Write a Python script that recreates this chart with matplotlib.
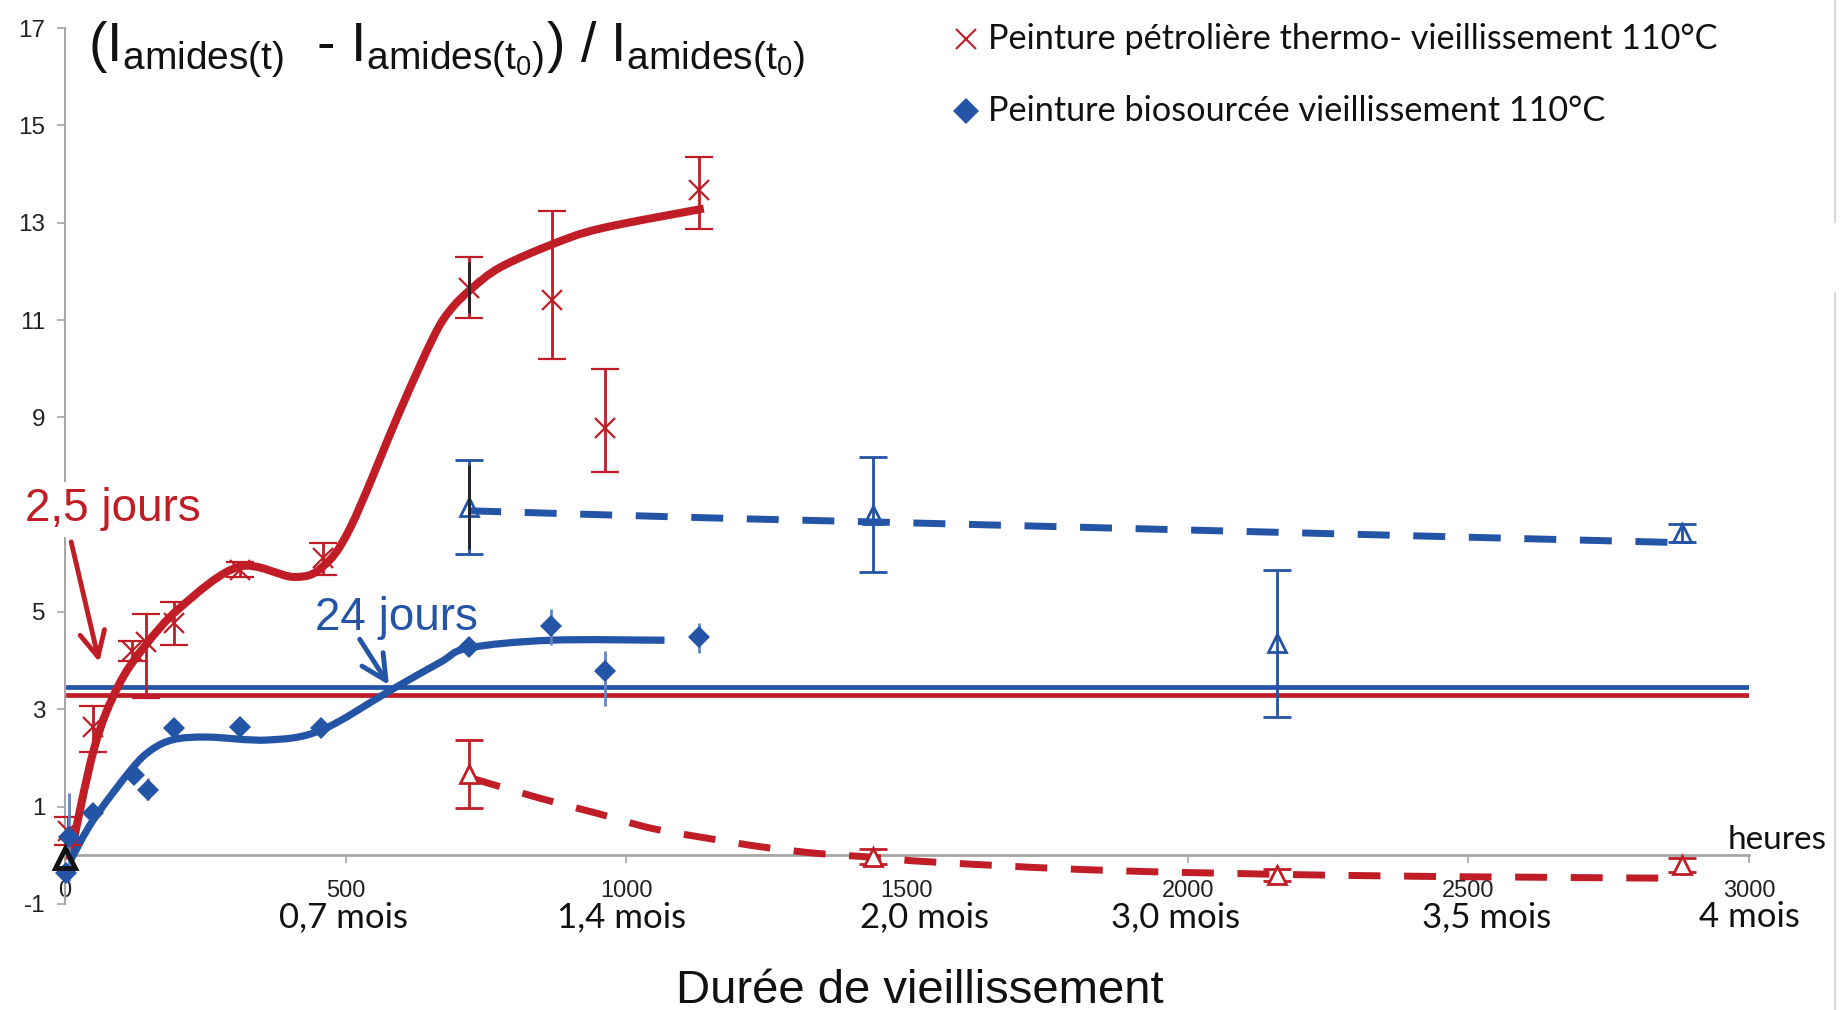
import numpy as np
import matplotlib as mpl
from matplotlib import pyplot as plt
from matplotlib.path import Path
from matplotlib.patches import PathPatch
from matplotlib.lines import Line2D

plt.rcParams['font.family'] = ['Liberation Sans', 'DejaVu Sans']
plt.rcParams['mathtext.fontset'] = 'custom'
plt.rcParams['mathtext.rm'] = 'Liberation Sans'
plt.rcParams['mathtext.it'] = 'Liberation Sans:italic'
plt.rcParams['axes.unicode_minus'] = False

RED = '#c01d26'
BLUE = '#2454a5'
GREY = '#a6a6a6'

# peinture pétrolière, thermo-vieillissement 110°C (croix)
petro_h = [5, 50, 120, 145, 195, 312, 460, 720, 867, 962, 1130]
petro_y = [0.5, 2.63, 4.2, 4.38, 4.77, 5.87, 6.1, 11.65, 11.42, 8.79, 13.68]
petro_lo = [0.28, 0.51, 0.2, 1.15, 0.45, 0.15, 0.33, 0.6, 1.22, 0.91, 0.8]
petro_hi = [0.28, 0.44, 0.2, 0.58, 0.43, 0.15, 0.31, 0.65, 1.81, 1.21, 0.66]

# peinture biosourcée 110°C (losanges)
bio_h = [2, 8, 50, 123, 148, 194, 312, 456, 720, 865, 962, 1130]
bio_y = [-0.37, 0.37, 0.86, 1.65, 1.34, 2.61, 2.64, 2.61, 4.28, 4.71, 3.79, 4.48]
bio_lo = [0.1, 0.9, 0.1, 0.12, 0.21, 0.1, 0.1, 0.1, 0.1, 0.39, 0.72, 0.33]
bio_hi = [0.1, 0.91, 0.1, 0.12, 0.24, 0.1, 0.1, 0.1, 0.1, 0.35, 0.41, 0.29]

# autres séries (triangles ouverts)
petro2_h = [720, 1440, 2160, 2880]
petro2_y = [1.67, -0.03, -0.41, -0.2]
petro2_err = [0.7, 0.15, 0.12, 0.15]
bio2_h = [720, 1440, 2160, 2880]
bio2_y = [7.16, 7.0, 4.36, 6.62]
bio2_err = [0.96, 1.18, 1.51, 0.18]

# courbes lissées
petro_fit_h = [8, 52, 94, 141, 206, 310, 408, 459, 509, 597, 656, 686, 723, 775, 867, 954, 1138]
petro_fit_y = [-0.1, 2.2, 3.46, 4.28, 5.1, 5.93, 5.72, 5.93, 6.75, 9.14, 10.64, 11.2, 11.63, 12.08,
               12.55, 12.88, 13.29]
bio_fit_h = [10, 50, 117, 153, 194, 254, 361, 456, 580, 669, 719, 865, 1068]
bio_fit_y = [-0.1, 0.72, 1.75, 2.16, 2.38, 2.43, 2.37, 2.57, 3.39, 3.97, 4.26, 4.42, 4.42]
petro2_fit_h = [720, 847, 949, 1043, 1145, 1243, 1340, 1440, 1549, 1857, 2263, 2619, 2860]
petro2_fit_y = [1.6, 1.17, 0.86, 0.56, 0.35, 0.17, 0.04, -0.04, -0.14, -0.31, -0.41, -0.45, -0.47]
bio2_fit_h = [720, 1160, 1442, 2860]
bio2_fit_y = [7.08, 6.93, 6.85, 6.43]

# seuils
seuil_bio = 3.45
seuil_petro = 3.30
seuil_h = [5, 3000]

y_ticks = [-1, 1, 3, 5, 7, 9, 11, 13, 15, 17]
y_ticklabels = ['-1', '1', '3', '5', '', '9', '11', '13', '15', '17']  # "7" caché sous "2,5 jours"
month_labels = ['0,7 mois', '1,4 mois', '2,0 mois', '3,0 mois', '3,5 mois', '4 mois']
month_h = [497, 992, 1532, 1978, 2533, 3000]


def smooth_path(xs, ys):
    # bezier a la Excel (courbe lissee)
    p = np.column_stack([xs, ys]).astype(float)
    n = len(p)
    verts = [p[0]]
    codes = [Path.MOVETO]
    for i in range(n - 1):
        p0 = p[i - 1] if i > 0 else p[i]
        p3 = p[i + 2] if i + 2 < n else p[i + 1]
        verts += [p[i] + (p[i + 1] - p0) / 6, p[i + 1] - (p3 - p[i]) / 6, p[i + 1]]
        codes += [Path.CURVE4] * 3
    return Path(verts, codes)


fig = plt.figure(figsize=(18.48, 10.10), dpi=100)
ax = fig.add_axes([65 / 1848, 1 - 904 / 1010, (1749 - 65) / 1848, (904 - 28) / 1010])
ax.set_xlim(0, 3000)
ax.set_ylim(-1, 17)

for s in ['top', 'right']:
    ax.spines[s].set_visible(False)
ax.spines['left'].set_color(GREY)
ax.spines['left'].set_linewidth(1.5)
ax.spines['bottom'].set_color(GREY)
ax.spines['bottom'].set_linewidth(2)
ax.spines['bottom'].set_position(('data', 0))

ax.set_yticks(y_ticks)
ax.set_yticklabels(y_ticklabels)
ax.set_xticks(np.arange(0, 3001, 500))
ax.tick_params(axis='y', direction='out', length=6, width=1.2, color=GREY, pad=8,
               labelsize=17.5, labelcolor='#222222')
ax.tick_params(axis='x', direction='out', length=6, width=1.2, color=GREY, pad=12,
               labelsize=17, labelcolor='#222222')
for lab in ax.get_xticklabels() + ax.get_yticklabels():
    lab.set_family(['Liberation Sans Narrow', 'Liberation Sans'])

# seuils horizontaux
ax.plot(seuil_h, [seuil_bio, seuil_bio], color=BLUE, lw=3.4, zorder=2)
ax.plot(seuil_h, [seuil_petro, seuil_petro], color=RED, lw=3.4, zorder=2)

# courbes
ax.add_patch(PathPatch(smooth_path(petro_fit_h, petro_fit_y), fill=False, ec=RED, lw=5.8,
                       capstyle='butt', zorder=3))
ax.add_patch(PathPatch(smooth_path(bio_fit_h, bio_fit_y), fill=False, ec=BLUE, lw=5.2,
                       capstyle='butt', zorder=3))
ax.add_patch(PathPatch(smooth_path(petro2_fit_h, petro2_fit_y), fill=False, ec=RED, lw=5,
                       ls=(0, (4.6, 3.4)), capstyle='butt', zorder=3))
ax.add_patch(PathPatch(smooth_path(bio2_fit_h, bio2_fit_y), fill=False, ec=BLUE, lw=5,
                       ls=(0, (4.6, 3.4)), capstyle='butt', zorder=3))

# points + barres d'erreur
ax.errorbar(petro_h, petro_y, yerr=[petro_lo, petro_hi], fmt='x', color=RED, ms=15, mew=1.6,
            ecolor=RED, elinewidth=2, capsize=10, capthick=4, zorder=4, clip_on=False)
ax.errorbar(bio_h, bio_y, yerr=[bio_lo, bio_hi], fmt='D', color=BLUE, ms=11, mew=0,
            ecolor='#6283c4', elinewidth=2, capsize=10, capthick=4, zorder=4, clip_on=False)
ax.errorbar(petro2_h, petro2_y, yerr=petro2_err, fmt='^', mfc='white', mec=RED, ms=13, mew=2,
            ecolor=RED, elinewidth=2, capsize=10, capthick=4, zorder=4, clip_on=False)
ax.errorbar(bio2_h, bio2_y, yerr=bio2_err, fmt='^', mfc='none', mec=BLUE, ms=13, mew=2,
            ecolor=BLUE, elinewidth=2, capsize=10, capthick=4, zorder=4, clip_on=False)

# tiges noires a 720 h (superposition Excel)
ax.vlines([petro_h[7], bio2_h[0]],
          [petro_y[7] - petro_lo[7] + 0.1, bio2_y[0] - bio2_err[0] + 0.1],
          [petro_y[7] + petro_hi[7] - 0.1, bio2_y[0] + bio2_err[0] - 0.1],
          color='#222222', lw=2, zorder=4.5)

# point t0
ax.plot([0], [-0.05], marker='^', ms=15, mfc='none', mec='#111111', mew=3.5, zorder=6,
        clip_on=False)

# annotations
ax.text(-71, 6.86, '2,5 jours', color=RED, fontsize=33, va='baseline', ha='left', clip_on=False,
        zorder=10, bbox=dict(fc='white', ec='none', pad=4))
ax.annotate('', xy=(61, 3.97), xytext=(11, 6.44),
            arrowprops=dict(arrowstyle='->,head_length=0.9,head_width=0.45', color=RED, lw=3.5,
                            mutation_scale=20, shrinkA=0, shrinkB=0))
ax.text(445, 4.64, '24 jours', color=BLUE, fontsize=33, va='baseline', ha='left')
ax.annotate('', xy=(577, 3.50), xytext=(525, 4.44),
            arrowprops=dict(arrowstyle='->,head_length=0.9,head_width=0.45', color=BLUE, lw=3.5,
                            mutation_scale=20, shrinkA=0, shrinkB=0))

# mois sous l'axe
for lab, h in zip(month_labels, month_h):
    ax.text(h, -1.27, lab, fontsize=25, ha='center', va='center', family=['Lato', 'DejaVu Sans'],
            color='#111111', clip_on=False)
ax.text(3139, 0.14, 'heures', fontsize=24, ha='right', va='baseline', family=['Lato', 'DejaVu Sans'],
        color='#111111', clip_on=False)

fig.text(920 / 1848, 0.007, 'Durée de vieillissement', fontsize=34, ha='center', va='baseline',
         color='#111111')

fig.text(88 / 1848, 1 - 20 / 1010,
         r'$(\mathrm{I}_{\mathrm{amides(t)}}\ \ \text{-}\ \mathrm{I}_{\mathrm{amides(t_0)}})\ /\ \mathrm{I}_{\mathrm{amides(t_0)}}$',
         fontsize=40, ha='left', va='top', color='#111111')

# legende
fig.add_artist(Line2D([966 / 1848], [1 - 39 / 1010], marker='x', ms=15, mew=1.5, color=RED, ls='none'))
fig.add_artist(Line2D([966 / 1848], [1 - 111 / 1010], marker='D', ms=13, mew=0, color=BLUE, ls='none'))
fig.text(988 / 1848, 1 - 39 / 1010, 'Peinture pétrolière thermo- vieillissement 110°C', fontsize=24.7,
         family=['Lato', 'DejaVu Sans'], va='center', color='#111111')
fig.text(988 / 1848, 1 - 111 / 1010, 'Peinture biosourcée vieillissement 110°C', fontsize=24.7,
         family=['Lato', 'DejaVu Sans'], va='center', color='#111111')

# bord clair a droite
fig.add_artist(Line2D([0.993, 0.993], [1.0, 0.78], color='#d9d9d9', lw=1.5))
fig.add_artist(Line2D([0.993, 0.993], [0.71, 0.0], color='#d9d9d9', lw=1.5))

plt.savefig('out.png', dpi=100)
